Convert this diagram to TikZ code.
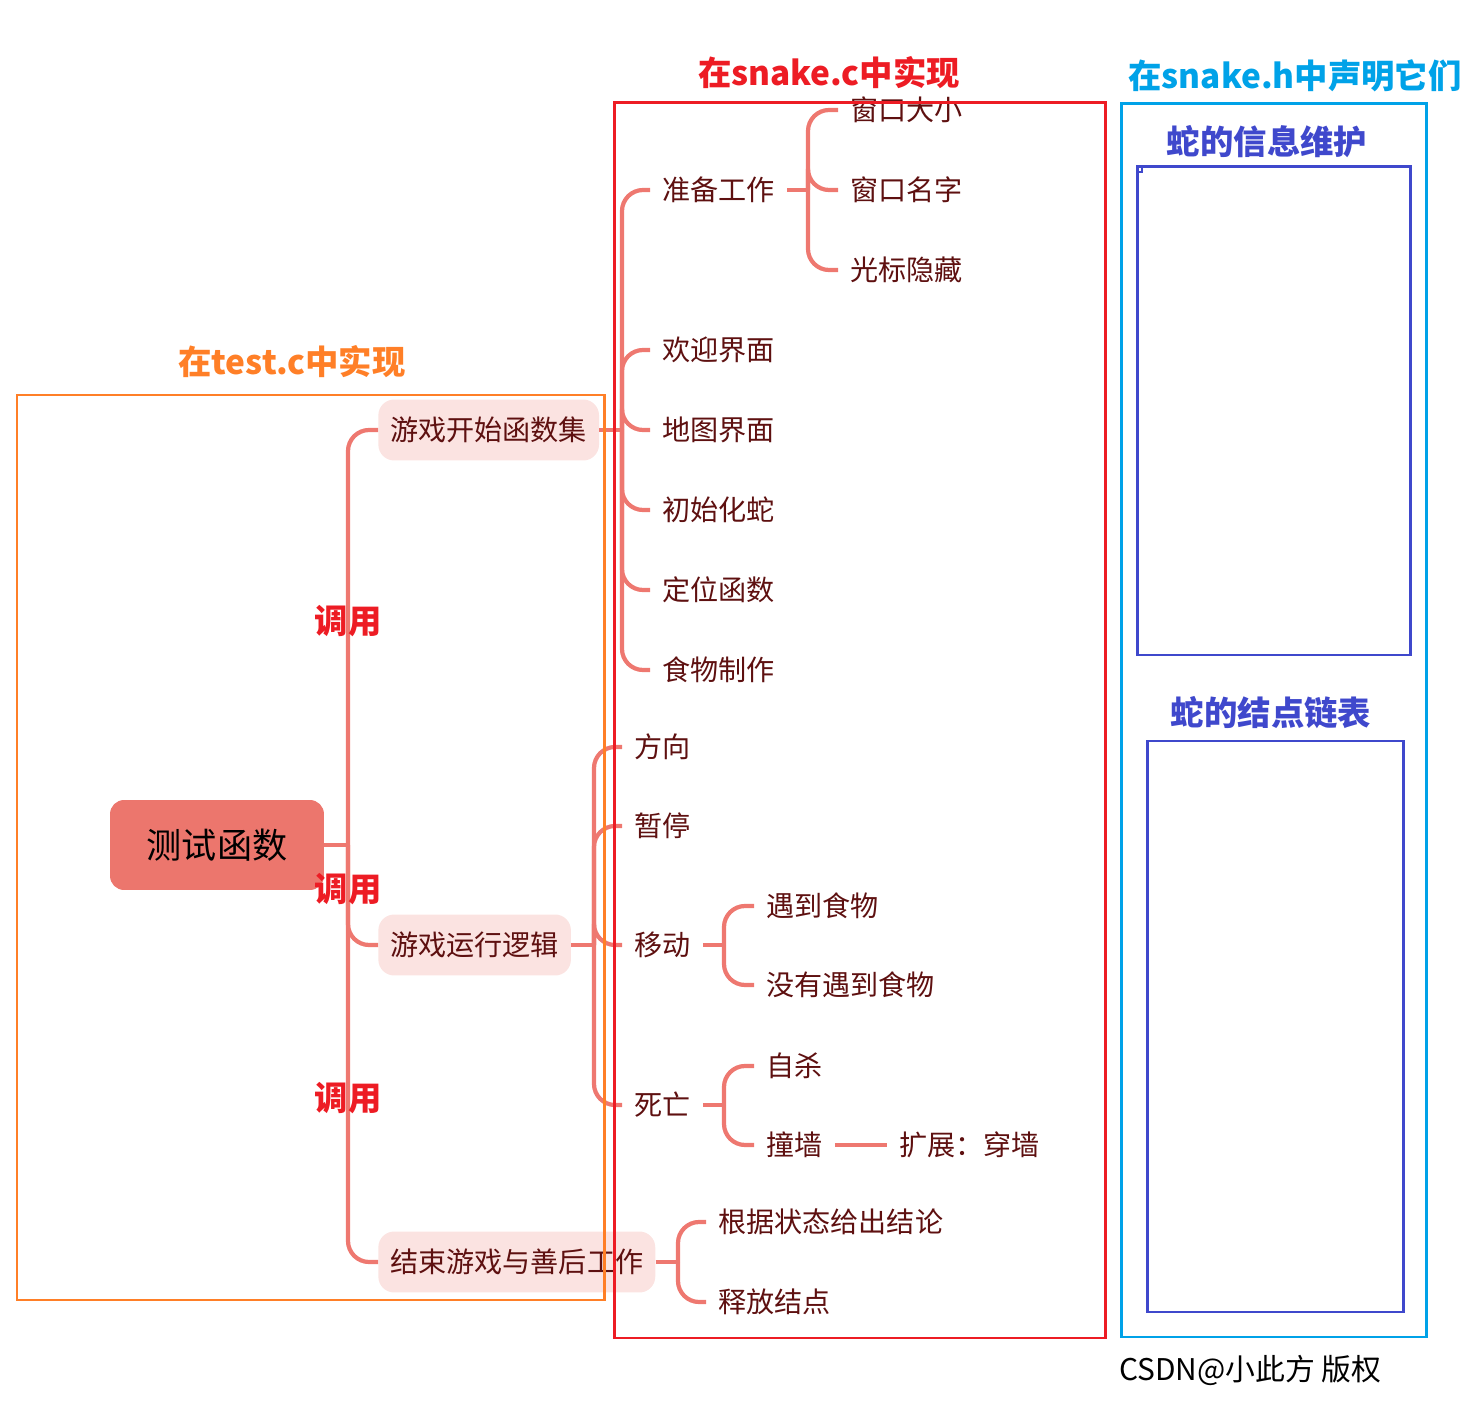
\documentclass[tikz,border=0pt]{standalone}
\usepackage{fontspec}
\setmainfont{Noto Sans CJK SC}
\usetikzlibrary{positioning}
\definecolor{branch}{HTML}{EE7870}
\definecolor{rootfill}{HTML}{EC766D}
\definecolor{topicfill}{HTML}{FBE3E1}
\definecolor{leaftext}{HTML}{5E1010}
\definecolor{testorange}{HTML}{FF7F27}
\definecolor{snakered}{HTML}{ED1C24}
\definecolor{hcyan}{HTML}{00A2E8}
\definecolor{infoblue}{HTML}{3F48CC}

\begin{document}
\begin{tikzpicture}[x=0.02cm,y=-0.02cm,
    conn/.style={draw=branch,line width=2.4pt,rounded corners=12pt},
    leaf/.style={anchor=west,text=leaftext,inner xsep=6.8pt,font=\fontsize{16}{19}\selectfont},
    topic/.style={leaf,fill=topicfill,rounded corners=9pt,minimum height=1.22cm},
    root/.style={fill=rootfill,rounded corners=8pt,minimum width=4.28cm,minimum height=1.8cm,font=\fontsize{20}{24}\selectfont},
    title/.style={font=\bfseries\fontsize{19}{22}\selectfont},
    frame/.style={line width=1.7pt}]
        \useasboundingbox (0,0) rectangle (1481,1408);
        \node[root] (root) at (217,845) {测试函数};
        % 1st layer
        \node[topic] (start) at (378,430) {游戏开始函数集};
        \node[topic] (run) at (378,945) {游戏运行逻辑};
        \node[topic] (end) at (378,1262) {结束游戏与善后工作};
        % 2nd layer
        \node[leaf] (prep) at (650,190) {准备工作};
        \node[leaf] (welcome) at (650,350) {欢迎界面};
        \node[leaf] (map) at (650,430) {地图界面};
        \node[leaf] (initsnake) at (650,510) {初始化蛇};
        \node[leaf] (locate) at (650,590) {定位函数};
        \node[leaf] (food) at (650,670) {食物制作};
        \node[leaf] (dir) at (622,747) {方向};
        \node[leaf] (pause) at (622,826) {暂停};
        \node[leaf] (move) at (622,945) {移动};
        \node[leaf] (die) at (622,1105) {死亡};
        \node[leaf] (verdict) at (706,1222) {根据状态给出结论};
        \node[leaf] (free) at (706,1302) {释放结点};
        % 3rd layer
        \node[leaf] (winsize) at (838,110) {窗口大小};
        \node[leaf] (winname) at (838,190) {窗口名字};
        \node[leaf] (cursor) at (838,270) {光标隐藏};
        \node[leaf] (meet) at (754,906) {遇到食物};
        \node[leaf] (miss) at (754,985) {没有遇到食物};
        \node[leaf] (suicide) at (754,1066) {自杀};
        \node[leaf] (wall) at (754,1145) {撞墙};
        \node[leaf] (through) at (887,1145) {扩展：穿墙};

        % junctions of the branches
        \coordinate (j0) at (348,845);
        \coordinate (j1) at (622,430);
        \coordinate (j2) at (808,190);
        \coordinate (j3) at (594,945);
        \coordinate (j4) at (724,945);
        \coordinate (j5) at (724,1105);
        \coordinate (j6) at (678,1262);

        \draw[conn] (root.east) -- (j0);
        \foreach \n in {start,run,end} \draw[conn] (j0) |- (\n.west);
        \draw[conn] (start.east) -- (j1);
        \foreach \n in {prep,welcome,map,initsnake,locate,food} \draw[conn] (j1) |- (\n.west);
        \draw[conn] (prep.east) -- (j2);
        \foreach \n in {winsize,winname,cursor} \draw[conn] (j2) |- (\n.west);
        \draw[conn] (run.east) -- (j3);
        \foreach \n in {dir,pause,move,die} \draw[conn] (j3) |- (\n.west);
        \draw[conn] (move.east) -- (j4);
        \foreach \n in {meet,miss} \draw[conn] (j4) |- (\n.west);
        \draw[conn] (die.east) -- (j5);
        \foreach \n in {suicide,wall} \draw[conn] (j5) |- (\n.west);
        \draw[conn] (wall.east) -- (through.west);
        \draw[conn] (end.east) -- (j6);
        \foreach \n in {verdict,free} \draw[conn] (j6) |- (\n.west);

        \node[title,text=snakered] (call1) at (348,621) {调用};
        \node[title,text=snakered] (call2) at (348,889) {调用};
        \node[title,text=snakered] (call3) at (348,1098) {调用};

        % frames round the files
        \draw[frame,testorange] (17,395) rectangle (604,1300);
        \draw[frame,snakered] (614,103) rectangle (1105,1338);
        \draw[frame,hcyan] (1121,104) rectangle (1426,1337);
        \draw[frame,infoblue] (1137,167) rectangle (1410,655);
        \draw[frame,infoblue] (1147,741) rectangle (1403,1312);
        \draw[infoblue,line width=0.8pt] (1138,166) rectangle (1142,172);
        \node[title,text=testorange] (testlbl) at (292,362) {在test.c中实现};
        \node[title,text=snakered] (clbl) at (829,73) {在snake.c中实现};
        \node[title,text=hcyan] (hlbl) at (1295,76) {在snake.h中声明它们};
        \node[title,text=infoblue] (infolbl) at (1267,142) {蛇的信息维护};
        \node[title,text=infoblue] (listlbl) at (1271,713) {蛇的结点链表};
        \node[anchor=west,font=\fontsize{17}{20}\selectfont] (copyright) at (1113,1370) {CSDN@小此方 版权};
\end{tikzpicture}
\end{document}
